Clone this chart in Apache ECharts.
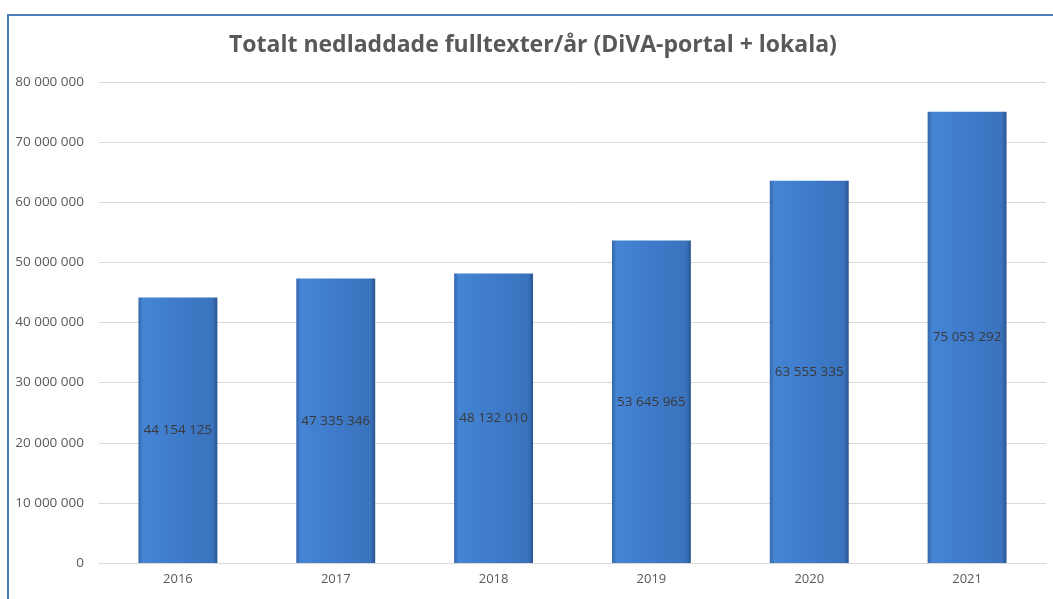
<!DOCTYPE html>
<html><head><meta charset="utf-8">
<script src="https://cdn.jsdelivr.net/npm/echarts@6/dist/echarts.min.js"></script>
<style>html,body{margin:0;padding:0;background:#fff}#c{width:1053px;height:599px}</style>
</head><body><div id="c"></div>
<script>
const title = 'Totalt nedladdade fulltexter/år (DiVA-portal + lokala)';
const years = ['2016','2017','2018','2019','2020','2021'];
const downloads = [44154125, 47335346, 48132010, 53645965, 63555335, 75053292];
const yMin = 0, yMax = 80000000, yStep = 10000000;

function fmt(v){ return String(v).replace(/\B(?=(\d{3})+(?!\d))/g, ' '); }

const chart = echarts.init(document.getElementById('c'), null, {renderer:'canvas'});
chart.setOption({
  animation:false,
  backgroundColor:'#fff',
  graphic:[{type:'rect', shape:{x:8,y:15,width:1100,height:650}, style:{fill:'none', stroke:'#4a7ebb', lineWidth:2}, z:100}],
  title:{text:title, left:224, top:29, textStyle:{fontFamily:'Open Sans', fontWeight:'bold', fontSize:23, color:'#595959'}},
  grid:{left:99, right:7, top:82, bottom:36},
  xAxis:{type:'category', data:years,
    axisLine:{lineStyle:{color:'#d9d9d9'}}, axisTick:{show:false},
    axisLabel:{color:'#595959', fontFamily:'Open Sans', fontSize:13, margin:10}},
  yAxis:{type:'value', min:yMin, max:yMax, interval:yStep,
    axisLine:{show:false}, axisTick:{show:false},
    splitLine:{lineStyle:{color:'#d9d9d9'}},
    axisLabel:{color:'#595959', fontFamily:'Open Sans', fontSize:13.5, margin:15, formatter:fmt}},
  series:[{type:'bar', data:downloads, barWidth:'50%',
    itemStyle:{color:new echarts.graphic.LinearGradient(0,0,1,0,[
      {offset:0,color:'#3467ab'},{offset:0.06,color:'#4585d4'},{offset:0.5,color:'#3e7bca'},{offset:0.94,color:'#3a72bd'},{offset:1,color:'#2a558f'}]),
      borderColor:'#5b95df', borderWidth:0},
    label:{show:true, position:'inside', color:'#3a3a3a', fontFamily:'Open Sans', fontSize:13.5, formatter:p=>fmt(p.value)}
  }]
});
</script></body></html>
